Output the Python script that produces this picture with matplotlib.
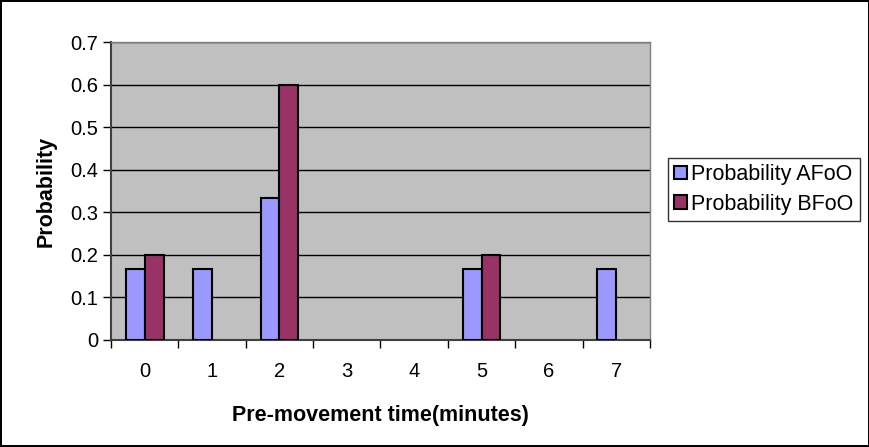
import matplotlib.pyplot as plt
import numpy as np

plt.rcParams['font.family'] = ['Liberation Sans', 'DejaVu Sans']

minutes = ['0', '1', '2', '3', '4', '5', '6', '7']
prob_afoo = [1/6, 1/6, 1/3, 0, 0, 1/6, 0, 1/6]
prob_bfoo = [0.2, 0, 0.6, 0, 0, 0.2, 0, 0]
yticks = [0, 0.1, 0.2, 0.3, 0.4, 0.5, 0.6, 0.7]

fig = plt.figure(figsize=(8.7, 4.47), dpi=100)
fig.patch.set_facecolor('white')
fig.patch.set_edgecolor('black')
fig.patch.set_linewidth(1.5)

ax = fig.add_axes([0.1276, 0.2394, 0.6195, 0.6666])
ax.set_facecolor('#C0C0C0')

x = np.arange(len(minutes))
w = 0.28
# empty categories get no bar at all (not even an outline)
a = np.array(prob_afoo, dtype=float)
b = np.array(prob_bfoo, dtype=float)
a[a == 0] = np.nan
b[b == 0] = np.nan
ax.bar(x - w/2, a, w, color='#9999FF', edgecolor='black', linewidth=1.5,
       label='Probability AFoO', zorder=3)
ax.bar(x + w/2, b, w, color='#993366', edgecolor='black', linewidth=1.5,
       label='Probability BFoO', zorder=3)

ax.set_xlim(-0.5, len(minutes) - 0.5)
ax.set_ylim(0, 0.7)
ax.set_yticks(yticks)
ax.set_yticklabels(['0' if v == 0 else f'{v:.1f}' for v in yticks])
ax.yaxis.grid(True, color='black', linewidth=1)
ax.set_axisbelow(True)

# category labels centred, tick marks between categories
ax.set_xticks(x)
ax.set_xticklabels(minutes)
ax.set_xticks(np.arange(-0.5, len(minutes)), minor=True)
ax.tick_params(axis='x', which='major', length=0, pad=16, labelsize=14.5)
ax.tick_params(axis='x', which='minor', length=6, width=1, color='black')
ax.tick_params(axis='y', length=6, width=1, labelsize=14.5, pad=3)

for side in ['top', 'right']:
    ax.spines[side].set_color('#808080')
    ax.spines[side].set_linewidth(1)
for side in ['left', 'bottom']:
    ax.spines[side].set_color('#404040')
    ax.spines[side].set_linewidth(1.5)

ax.set_ylabel('Probability', fontsize=15.5, fontweight='bold', labelpad=10)
ax.set_xlabel('Pre-movement time(minutes)', fontsize=15.5, fontweight='bold', labelpad=17)

leg = ax.legend(loc='center left', bbox_to_anchor=(1.033, 0.505), fontsize=15.5,
                frameon=True, fancybox=False, edgecolor='black',
                handlelength=0.6, handleheight=0.6, handletextpad=0.2,
                borderpad=0.3, labelspacing=0.4, borderaxespad=0)
leg.get_frame().set_linewidth(1)

fig.savefig('out.png', dpi=100, edgecolor=fig.get_edgecolor())
